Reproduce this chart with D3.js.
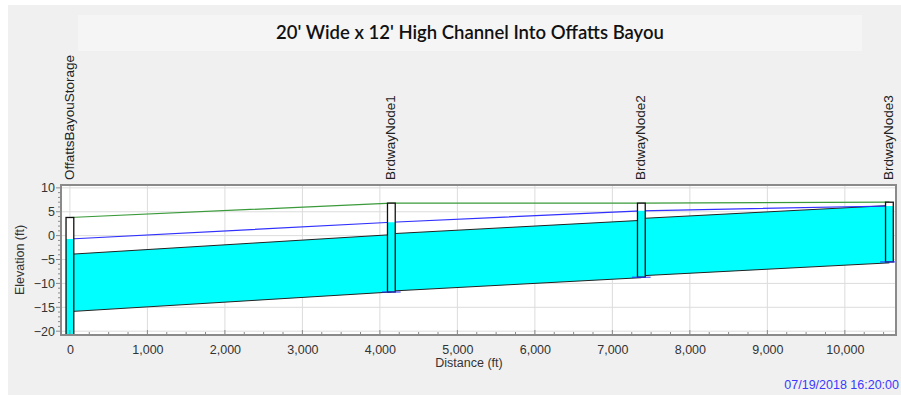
<!DOCTYPE html>
<html><head><meta charset="utf-8">
<script src="https://cdn.jsdelivr.net/npm/d3@7"></script>
<style>
html,body{margin:0;padding:0;background:#fff;}
svg{display:block;}
</style></head>
<body>
<svg id="c" width="901" height="400"></svg>
<script>
// ---- data ----
const title = "20' Wide x 12' High Channel Into Offatts Bayou";
const nodeNames = ["OffattsBayouStorage", "BrdwayNode1", "BrdwayNode2", "BrdwayNode3"];
const nodeStations = [0, 4148, 7374, 10575];
const nodeRims = [3.8, 6.8, 6.8, 7.0];
const nodeInverts = [-21, -11.8, -8.7, -5.5];
const waterLevels = [-0.7, 2.8, 5.2, 6.2];
const linkUpInverts = [-15.9, -11.6, -8.4];
const linkDnInverts = [-11.8, -8.8, -5.7];
const linkHeight = 12;
const xTicks = [0, 1000, 2000, 3000, 4000, 5000, 6000, 7000, 8000, 9000, 10000];
const yTicks = [10, 5, 0, -5, -10, -15, -20];
const timestamp = "07/19/2018 16:20:00";

// ---- layout ----
const svg = d3.select("#c");
const P = {l: 61, r: 896, t: 185, b: 335};
const x = d3.scaleLinear().domain([-115, 10660]).range([P.l, P.r]);
const y = d3.scaleLinear().domain([-20.8, 10.6]).range([P.b, P.t]);
const font = "Arial, 'Liberation Sans', sans-serif";

svg.append("rect").attr("x", 8).attr("y", 5).attr("width", 893).attr("height", 390).attr("fill", "#f0f0f0");
svg.append("rect").attr("x", 78).attr("y", 15).attr("width", 784).attr("height", 36).attr("fill", "#f5f5f5");
svg.append("text").attr("x", 470).attr("y", 39).attr("text-anchor", "middle")
  .attr("font-family", "Lato, 'Open Sans', sans-serif").attr("font-weight", 600).attr("font-size", 18.5)
  .attr("fill", "#111").text(title);

// plot bg
svg.append("rect").attr("x", P.l).attr("y", P.t).attr("width", P.r - P.l).attr("height", P.b - P.t).attr("fill", "#fff");

const clipId = "pc";
svg.append("clipPath").attr("id", clipId).append("rect")
  .attr("x", P.l).attr("y", P.t).attr("width", P.r - P.l).attr("height", P.b - P.t);

// grid
const grid = svg.append("g");
grid.selectAll("line.v").data(xTicks).join("line")
  .attr("x1", d => x(d)).attr("x2", d => x(d)).attr("y1", P.t).attr("y2", P.b)
  .attr("stroke", "#dcdcdc").attr("stroke-width", 1);
grid.selectAll("line.h").data(yTicks).join("line")
  .attr("y1", d => y(d)).attr("y2", d => y(d)).attr("x1", P.l).attr("x2", P.r)
  .attr("stroke", "#dcdcdc").attr("stroke-width", 1);

const plot = svg.append("g").attr("clip-path", `url(#${clipId})`);

// conduits
const links = linkUpInverts.map((u, i) => ({
  x0: nodeStations[i], x1: nodeStations[i + 1], inv0: u, inv1: linkDnInverts[i]
}));
plot.selectAll("path.link").data(links).join("path")
  .attr("d", d => `M${x(d.x0)},${y(d.inv0 + linkHeight)}L${x(d.x1)},${y(d.inv1 + linkHeight)}L${x(d.x1)},${y(d.inv1)}L${x(d.x0)},${y(d.inv0)}Z`)
  .attr("fill", "#00ffff").attr("stroke", "none");
plot.selectAll("line.crown").data(links).join("line")
  .attr("x1", d => x(d.x0)).attr("x2", d => x(d.x1))
  .attr("y1", d => y(d.inv0 + linkHeight)).attr("y2", d => y(d.inv1 + linkHeight))
  .attr("stroke", "#222").attr("stroke-width", 1);
plot.selectAll("line.invert").data(links).join("line")
  .attr("x1", d => x(d.x0)).attr("x2", d => x(d.x1))
  .attr("y1", d => y(d.inv0)).attr("y2", d => y(d.inv1))
  .attr("stroke", "#222").attr("stroke-width", 1);

// ground (rim) line and HGL
const lineGen = d3.line().x(d => x(d[0])).y(d => y(d[1]));
plot.append("path").datum(nodeStations.map((s, i) => [s, nodeRims[i]]))
  .attr("d", lineGen).attr("fill", "none").attr("stroke", "#3a9a3a").attr("stroke-width", 1.2);
plot.append("path").datum(nodeStations.map((s, i) => [s, waterLevels[i]]))
  .attr("d", lineGen).attr("fill", "none").attr("stroke", "#3030ff").attr("stroke-width", 1.2);

// nodes
const nodes = nodeNames.map((n, i) => ({
  name: n, s: nodeStations[i], rim: nodeRims[i], inv: nodeInverts[i], wl: waterLevels[i]
}));
const halfW = 50;
const ng = plot.selectAll("g.node").data(nodes).join("g");
ng.append("rect")
  .attr("x", d => x(d.s - halfW)).attr("width", d => x(d.s + halfW) - x(d.s - halfW))
  .attr("y", d => y(d.rim)).attr("height", d => y(d.inv) - y(d.rim))
  .attr("fill", "#fff");
ng.append("rect")
  .attr("x", d => x(d.s - halfW)).attr("width", d => x(d.s + halfW) - x(d.s - halfW))
  .attr("y", d => y(d.wl)).attr("height", d => y(d.inv) - y(d.wl))
  .attr("fill", "#00ffff");
ng.append("rect")
  .attr("x", d => x(d.s - halfW)).attr("width", d => x(d.s + halfW) - x(d.s - halfW))
  .attr("y", d => y(d.rim)).attr("height", d => y(d.inv) - y(d.rim))
  .attr("fill", "none").attr("stroke", "#111").attr("stroke-width", 1.3);
ng.append("line")
  .attr("x1", d => x(d.s - 120)).attr("x2", d => x(d.s + 120))
  .attr("y1", d => y(d.inv)).attr("y2", d => y(d.inv))
  .attr("stroke", "#3030ff").attr("stroke-width", 1);

// border
svg.append("rect").attr("x", P.l).attr("y", P.t).attr("width", P.r - P.l).attr("height", P.b - P.t)
  .attr("fill", "none").attr("stroke", "#8a8a8a").attr("stroke-width", 2);

// axes
const xAxis = d3.axisBottom(x).tickValues(xTicks).tickFormat(d3.format(",")).tickSize(0).tickPadding(10);
const xg = svg.append("g").attr("transform", `translate(0,${P.b})`).call(xAxis);
xg.select(".domain").remove();
xg.selectAll("text").attr("font-family", font).attr("font-size", 12.5).attr("fill", "#333");
const xMinor = d3.range(0, 10600, 250);
svg.append("g").selectAll("line").data(xMinor).join("line")
  .attr("x1", d => x(d)).attr("x2", d => x(d))
  .attr("y1", P.b).attr("y2", d => P.b - (d % 1000 === 0 ? 5 : 3))
  .attr("stroke", "#8a8a8a");

const yAxis = d3.axisLeft(y).tickValues(yTicks).tickSize(0).tickPadding(6);
const yg = svg.append("g").attr("transform", `translate(${P.l},0)`).call(yAxis);
yg.select(".domain").remove();
yg.selectAll("text").attr("font-family", font).attr("font-size", 12.5).attr("fill", "#333");
const yMinor = d3.range(-20, 11, 1);
svg.append("g").selectAll("line").data(yMinor).join("line")
  .attr("y1", d => y(d)).attr("y2", d => y(d))
  .attr("x1", P.l).attr("x2", d => P.l - (d % 5 === 0 ? 5 : 3))
  .attr("stroke", "#8a8a8a");

// axis titles
svg.append("text").attr("x", 469).attr("y", 367).attr("text-anchor", "middle")
  .attr("font-family", font).attr("font-size", 12.5).attr("fill", "#333").text("Distance (ft)");
svg.append("text").attr("transform", `translate(24,${(P.t + P.b) / 2}) rotate(-90)`).attr("text-anchor", "middle")
  .attr("font-family", font).attr("font-size", 12.5).attr("fill", "#333").text("Elevation (ft)");

// node labels
svg.append("g").selectAll("text").data(nodes).join("text")
  .attr("transform", d => `translate(${x(d.s) + 4},${P.t - 5}) rotate(-90)`)
  .attr("text-anchor", "start")
  .attr("font-family", font).attr("font-size", 13.5).attr("fill", "#222").text(d => d.name);

// timestamp
svg.append("text").attr("x", 899).attr("y", 389).attr("text-anchor", "end")
  .attr("font-family", font).attr("font-size", 12.5).attr("fill", "#3a3aff").text(timestamp);
</script>
</body></html>
